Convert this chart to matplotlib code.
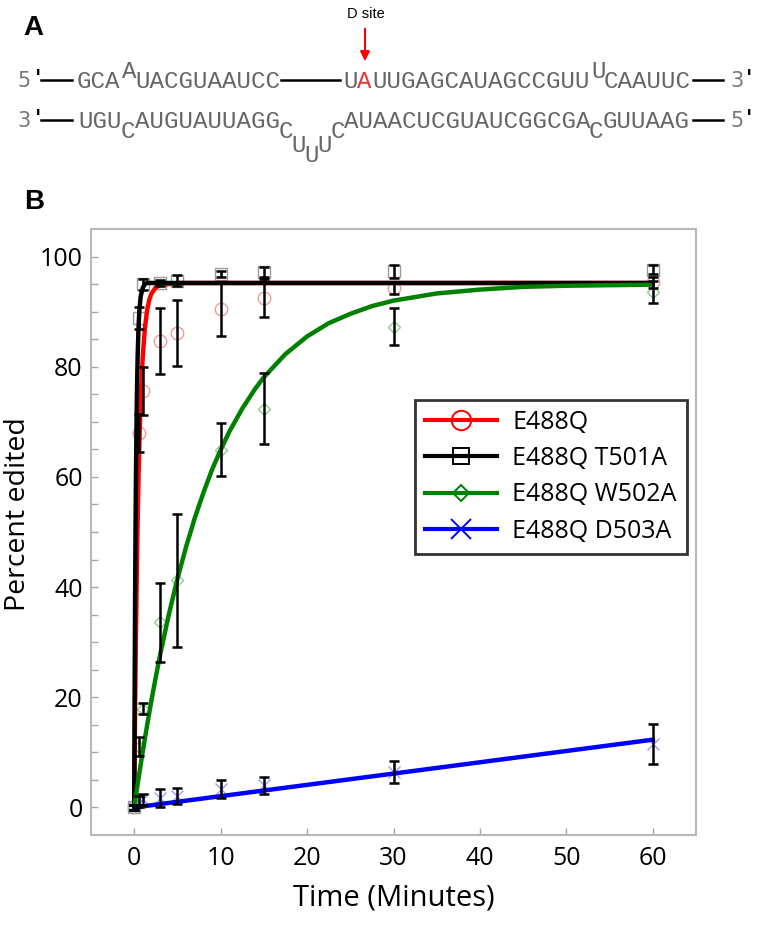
import matplotlib
matplotlib.use("Agg")
import matplotlib.pyplot as plt
from matplotlib.lines import Line2D
from matplotlib.patches import FancyArrowPatch

plt.rcParams['font.family'] = ['Open Sans', 'DejaVu Sans']

# measured time points (minutes)
time = [0, 0.5, 1, 3, 5, 10, 15, 30, 60]

# percent edited
e488q = [0, 68, 75.6, 84.6, 86.1, 90.4, 92.5, 94.2, 95.3]
e488q_err = [0.5, 3.5, 4.3, 6.0, 6.0, 4.8, 3.5, 1.0, 1.0]
t501a = [0, 88.8, 95.0, 95.2, 95.6, 96.8, 97.2, 97.3, 97.6]
t501a_err = [0.5, 2.0, 1.0, 0.6, 1.0, 0.6, 0.9, 1.2, 0.8]
w502a = [0, 11.0, 17.9, 33.6, 41.2, 64.9, 72.4, 87.3, 93.5]
w502a_err = [0.5, 1.7, 1.0, 7.2, 12.0, 4.8, 6.5, 3.4, 2.0]
d503a = [0, 1.0, 1.5, 1.7, 2.1, 3.4, 4.0, 6.4, 11.5]
d503a_err = [0.5, 1.0, 1.0, 1.7, 1.4, 1.6, 1.5, 2.0, 3.7]

# fitted curves, points
fit_red_t = [0, 0.05, 0.1, 0.15, 0.2, 0.3, 0.4, 0.5, 0.6, 0.75, 0.9, 1, 1.25, 1.5, 1.75,
             2, 2.5, 3, 4, 5, 60]
fit_red_y = [0, 9.0, 17.2, 24.6, 31.3, 42.9, 52.3, 60.1, 66.4, 73.8, 79.1, 82.1, 87.2, 90.3,
             92.2, 93.3, 94.4, 94.8, 95.0, 95.2, 95.2]
fit_blk_t = [0, 0.05, 0.1, 0.15, 0.2, 0.3, 0.4, 0.5, 0.6, 0.75, 1, 1.25, 1.5, 60]
fit_blk_y = [0, 20.9, 37.4, 50.4, 60.1, 74.0, 82.1, 87.2, 90.3, 92.8, 94.4, 95.0, 95.2, 95.2]
fit_grn_t = [0, 0.5, 1, 1.5, 2, 2.5, 3, 4, 5, 6, 7, 8, 9, 10, 11, 12.5, 14, 15, 17.5, 20,
             22.5, 25, 27.5, 30, 35, 40, 45, 50, 55, 60]
fit_grn_y = [0, 5.3, 10.3, 15.0, 19.5, 23.7, 27.7, 35.0, 41.5, 47.3, 52.5, 57.1, 61.3, 64.9,
             68.2, 72.4, 76.0, 78.1, 82.3, 85.5, 87.9, 89.6, 91.0, 92.0, 93.3, 94.0, 94.5,
             94.7, 94.8, 94.9]
fit_blu_t = [0, 60]
fit_blu_y = [0, 12.3]

labels = ['E488Q', 'E488Q T501A', 'E488Q W502A', 'E488Q D503A']

W, H = 757, 925
fig = plt.figure(figsize=(W / 100, H / 100), dpi=100)


def fx(x):
    return x / W


def fy(y):
    return 1 - y / H


# ---------- panel A ----------
fig.text(fx(23), fy(28), 'A', family='Liberation Sans', weight='bold', fontsize=20,
         va='center', ha='left')
fig.text(fx(366), fy(14), 'D site', family='Liberation Sans', fontsize=10.5,
         va='center', ha='center')
fig.add_artist(FancyArrowPatch((fx(365), fy(26)), (fx(365), fy(64)),
                               transform=fig.transFigure, arrowstyle='-|>',
                               mutation_scale=14, color='red', lw=1.5))

mono = dict(family='Liberation Mono', fontsize=17.4, color='#666666', va='center', ha='left')
gray_sans = dict(family='DejaVu Sans', fontsize=15, color='#777777', va='center', ha='left')
prime = dict(family='DejaVu Sans', fontsize=15, color='black', weight='bold', va='center', ha='left')

y1, y2 = 81, 121
fig.text(fx(17), fy(y1), '5', **gray_sans)
fig.text(fx(35), fy(y1 - 2), "'", **prime)
fig.text(fx(17), fy(y2), '3', **gray_sans)
fig.text(fx(35), fy(y2 - 2), "'", **prime)
fig.text(fx(730), fy(y1), '3', **gray_sans)
fig.text(fx(746), fy(y1 - 2), "'", **prime)
fig.text(fx(730), fy(y2), '5', **gray_sans)
fig.text(fx(746), fy(y2 - 2), "'", **prime)

for xa, xb, yy in [(41, 72, 80), (281, 340, 80), (693, 723, 80), (41, 72, 120), (693, 723, 120)]:
    fig.add_artist(Line2D([fx(xa), fx(xb)], [fy(yy), fy(yy)], transform=fig.transFigure,
                          color='black', lw=1.8))

# top strand
fig.text(fx(77), fy(y1), 'GCA', **mono)
fig.text(fx(122), fy(y1 - 10), 'A', **mono)
fig.text(fx(135), fy(y1), 'UACGUAAUCC', **mono)
fig.text(fx(343), fy(y1), 'U', **mono)
fig.text(fx(357), fy(y1), 'A', **{**mono, 'color': '#ee3333'})
fig.text(fx(372), fy(y1), 'UUGAGCAUAGCCGUU', **mono)
fig.text(fx(591), fy(y1 - 10), 'U', **mono)
fig.text(fx(604), fy(y1), 'CAAUUC', **mono)

# bottom strand
fig.text(fx(78), fy(y2), 'UGU', **mono)
fig.text(fx(121), fy(y2 + 10), 'C', **mono)
fig.text(fx(135), fy(y2), 'AUGUAUUAGG', **mono)
fig.text(fx(279), fy(y2 + 10), 'C', **mono)
fig.text(fx(291), fy(y2 + 25), 'U', **mono)
fig.text(fx(304), fy(y2 + 34), 'U', **mono)
fig.text(fx(317), fy(y2 + 25), 'U', **mono)
fig.text(fx(331), fy(y2 + 10), 'C', **mono)
fig.text(fx(344), fy(y2), 'AUAACUCGUAUCGGCGA', **mono)
fig.text(fx(589), fy(y2 + 10), 'C', **mono)
fig.text(fx(603), fy(y2), 'GUUAAG', **mono)

# ---------- panel B ----------
fig.text(fx(24), fy(202), 'B', family='Liberation Sans', weight='bold', fontsize=20,
         va='center', ha='left')

ax = fig.add_axes([fx(91), fy(835), (696 - 91) / W, (835 - 229) / H])

series = [
    (e488q, e488q_err, fit_red_t, fit_red_y, 'red', '#f29a9a', 'o', 9),
    (t501a, t501a_err, fit_blk_t, fit_blk_y, 'black', '#999999', 's', 8.5),
    (w502a, w502a_err, fit_grn_t, fit_grn_y, 'green', '#8ccf8c', 'D', 6),
    (d503a, d503a_err, fit_blu_t, fit_blu_y, 'blue', '#9c9cff', 'x', 8),
]

handles = []
for (vals, err, ft, fyv, col, light, mk, ms), lab in zip(series, labels):
    ax.plot(time, vals, ls='none', marker=mk, ms=ms, mfc='none', mec=light, mew=1.0, zorder=1)
    ax.errorbar(time, vals, yerr=err, fmt='none', ecolor='black', elinewidth=1.8,
                capsize=3.5, capthick=1.8, zorder=3)
    ax.plot(ft, fyv, color=col, lw=3.2, zorder=2, solid_joinstyle='round')
    hms = {'o': 14, 's': 12, 'D': 8.5, 'x': 15}[mk]
    handles.append(Line2D([], [], color=col, lw=3, marker=mk, ms=hms, mfc='none',
                          mec=col, mew=1.4, label=lab))

ax.set_xlim(-5, 65)
ax.set_ylim(-5, 105)
ax.set_xticks([0, 10, 20, 30, 40, 50, 60])
ax.set_yticks([0, 20, 40, 60, 80, 100])
ax.set_yticks(range(0, 105, 5), minor=True)
for s in ax.spines.values():
    s.set_color('#b8b8b8')
    s.set_linewidth(1.5)
ax.tick_params(axis='both', which='both', direction='in', color='#a8a8a8', width=1.0,
               labelsize=18, length=5)
ax.tick_params(axis='x', pad=8)
ax.tick_params(axis='y', pad=6)
ax.set_xlabel('Time (Minutes)', fontsize=21, labelpad=9)
ax.set_ylabel('Percent edited', fontsize=20.5)
ax.yaxis.set_label_coords(-0.098, 0.53)

leg = ax.legend(handles=handles, loc='upper left', bbox_to_anchor=(0.535, 0.718),
                borderaxespad=0, fontsize=18, frameon=True, fancybox=False,
                handlelength=2.9, labelspacing=0.45, borderpad=0.4, handletextpad=0.6)
leg.get_frame().set_edgecolor('black')
leg.get_frame().set_linewidth(2)

fig.savefig('out.png', dpi=100)
